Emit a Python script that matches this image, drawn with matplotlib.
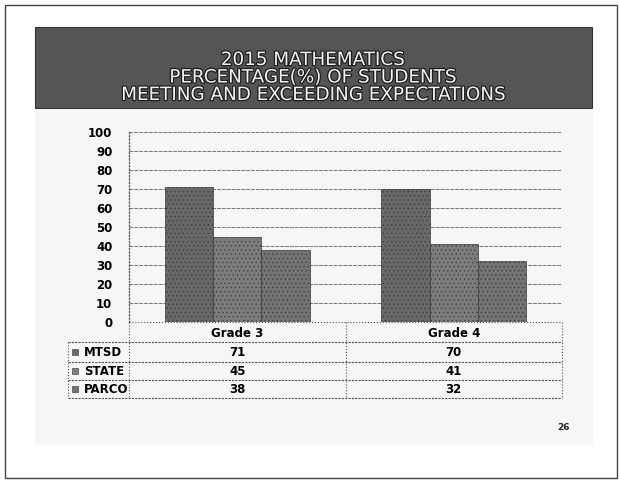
import matplotlib
matplotlib.use("Agg")
import matplotlib.pyplot as plt
import matplotlib.patheffects as pe
import matplotlib.transforms as mtransforms
from matplotlib.patches import Rectangle
import numpy as np

# data
grades = ["Grade 3", "Grade 4"]
series = ["MTSD", "STATE", "PARCO"]
mtsd = [71, 70]
state = [45, 41]
parco = [38, 32]
title_lines = ["2015 MATHEMATICS",
               "PERCENTAGE(%) OF STUDENTS",
               "MEETING AND EXCEEDING EXPECTATIONS"]
yticks = list(range(0, 101, 10))

W, H = 619, 482
BAR_COLORS = ["#686868", "#7c7c7c", "#737373"]
LINE = "#555555"

plt.rcParams["hatch.color"] = "#444444"
plt.rcParams["hatch.linewidth"] = 0.4


def fx(px):
    return px / W


def fy(py):
    return 1 - py / H


fig = plt.figure(figsize=(W / 100, H / 100), dpi=100)
fig.patch.set_facecolor("white")

# slide border + faint scan-grey background behind the chart
fig.add_artist(Rectangle((fx(5), fy(478)), fx(612), 473 / H, transform=fig.transFigure,
                         fill=False, ec="#444444", lw=1.0))
fig.add_artist(Rectangle((fx(35), fy(445)), fx(558), 335 / H, transform=fig.transFigure,
                         fc="#f6f6f6", ec="none", zorder=0))

# title banner
fig.add_artist(Rectangle((fx(35), fy(108)), fx(557), 81 / H, transform=fig.transFigure,
                         fc="#555555", ec="#333333", lw=0.8))
for i, line in enumerate(title_lines):
    fig.text(fx(313), fy(60 + i * 17.5), line, ha="center", va="center",
             fontsize=13.2, color="#f2f2f2",
             path_effects=[pe.withStroke(linewidth=1.8, foreground="#1e1e1e")])

# chart axes: x 129..562 px, y(0)=322 px, y(100)=132 px
ax = fig.add_axes([fx(129), fy(322), fx(562) - fx(129), 190 / H])
ax.set_facecolor("none")

x = np.arange(len(grades))
bw = 0.224
for k, (vals, col) in enumerate(zip([mtsd, state, parco], BAR_COLORS)):
    ax.bar(x + (k - 1) * bw, vals, width=bw, color=col, edgecolor="#3a3a3a",
           linewidth=0.5, hatch="....", zorder=3)

ax.set_xlim(-0.5, 1.5)
ax.set_ylim(0, 100)
ax.set_yticks(yticks)
ax.set_yticklabels([str(t) for t in yticks], fontsize=8.5, fontweight="bold")
ax.tick_params(axis="y", length=0, pad=12)
ax.set_xticks([])
ax.grid(axis="y", color="#777777", lw=0.7, ls=(0, (4, 1)), zorder=1)
for s in ["top", "right", "bottom"]:
    ax.spines[s].set_visible(False)
ax.spines["left"].set_color(LINE)
ax.spines["left"].set_linestyle(":")
ax.spines["left"].set_linewidth(0.9)

# data table under the chart (Excel style)
blend = mtransforms.blended_transform_factory(ax.transData, ax.transAxes)
row_y = [-0.158, -0.258, -0.353]
hlines = [-0.105, -0.21, -0.305, -0.4]
left_a, axis_a = (68 - 129) / 433, 0.0

ax.plot([0, 1], [0, 0], transform=ax.transAxes, color=LINE, lw=0.8, ls=":", clip_on=False)
for yy in hlines:
    ax.plot([left_a, 1], [yy, yy], transform=ax.transAxes, color=LINE, lw=0.8,
            ls=(0, (2, 1)), clip_on=False)
ax.plot([left_a, left_a], [hlines[0], hlines[-1]], transform=ax.transAxes,
        color=LINE, lw=0.8, ls=":", clip_on=False)
for xa in [axis_a, 0.5, 1.0]:
    ax.plot([xa, xa], [0, hlines[-1]], transform=ax.transAxes, color=LINE,
            lw=0.8, ls=":", clip_on=False)

for gx, g in zip(x, grades):
    ax.text(gx, -0.058, g, transform=blend, ha="center", va="center",
            fontsize=8.5, fontweight="bold", clip_on=False)

for r, (name, vals, col) in enumerate(zip(series, [mtsd, state, parco], BAR_COLORS)):
    ax.scatter([(75 - 129) / 433], [row_y[r]], transform=ax.transAxes, marker="s",
               s=18, color=col, edgecolor="#333333", linewidth=0.4, clip_on=False)
    ax.text((84 - 129) / 433, row_y[r], name, transform=ax.transAxes, ha="left",
            va="center", fontsize=8.5, fontweight="bold", clip_on=False)
    for gx, v in zip(x, vals):
        ax.text(gx, row_y[r], str(v), transform=blend, ha="center", va="center",
                fontsize=8.5, fontweight="bold", clip_on=False)

# page number
fig.text(fx(563), fy(428), "26", ha="center", va="center", fontsize=6.5,
         fontweight="bold", color="#222222")

fig.savefig("out.png", dpi=100)
